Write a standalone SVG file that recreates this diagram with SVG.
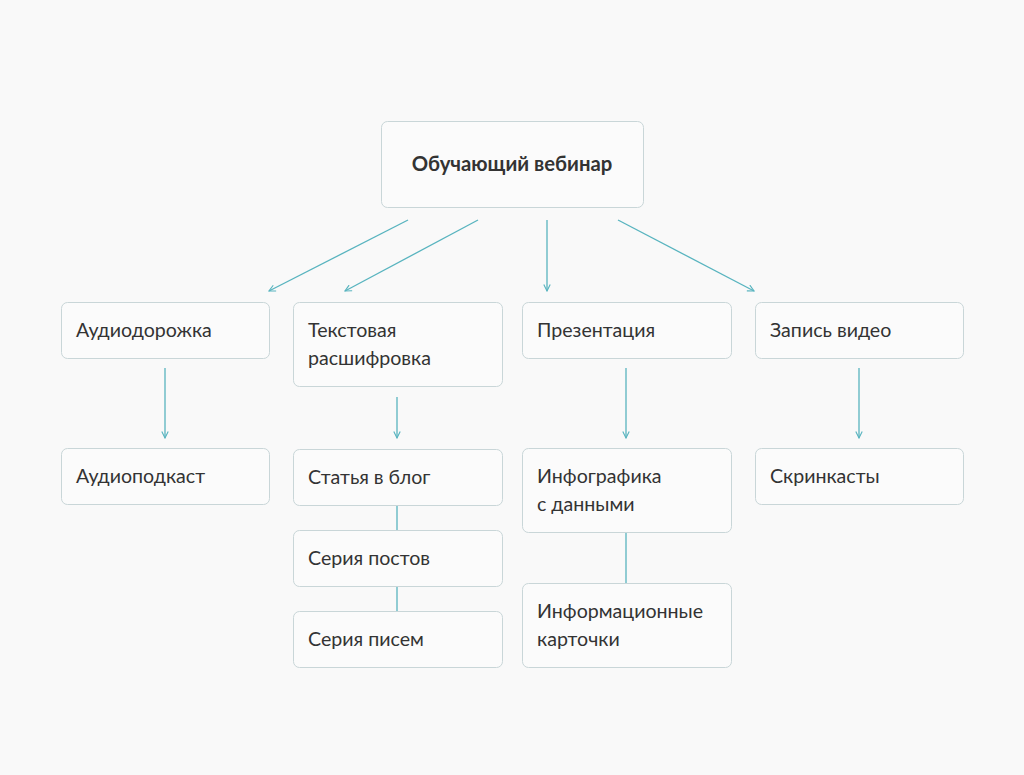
<svg xmlns="http://www.w3.org/2000/svg" width="1024" height="775" viewBox="0 0 1024 775">
<style>
.box{fill:#fbfbfb;stroke:#c9d6d8;stroke-width:1}
.t{font-family:Lato,"Noto Sans",sans-serif;font-size:19.6px;fill:#333333}
.b{font-weight:bold;text-anchor:middle;font-size:20.3px}
.ln{stroke:#58b4bf;stroke-width:1.3;fill:none}
</style>
<defs>
<marker id="ah" viewBox="0 0 10 10" refX="9" refY="5" markerWidth="8" markerHeight="8" markerUnits="userSpaceOnUse" orient="auto">
<path d="M1,1 L9,5 L1,9" fill="none" stroke="#58b4bf" stroke-width="1.4"/>
</marker>
</defs>
<rect width="1024" height="775" fill="#f9f9f9"/>
<g id="connectors">
<line class="ln" x1="408" y1="220" x2="269" y2="291" marker-end="url(#ah)"/>
<line class="ln" x1="478" y1="220" x2="345" y2="291" marker-end="url(#ah)"/>
<line class="ln" x1="547" y1="220" x2="547" y2="291" marker-end="url(#ah)"/>
<line class="ln" x1="618" y1="220" x2="754" y2="291" marker-end="url(#ah)"/>
<line class="ln" x1="165" y1="368" x2="165" y2="438" marker-end="url(#ah)"/>
<line class="ln" x1="397" y1="397" x2="397" y2="438" marker-end="url(#ah)"/>
<line class="ln" x1="626" y1="368" x2="626" y2="438" marker-end="url(#ah)"/>
<line class="ln" x1="859" y1="368" x2="859" y2="438" marker-end="url(#ah)"/>
<line class="ln" x1="397" y1="505" x2="397" y2="530"/>
<line class="ln" x1="397" y1="586" x2="397" y2="611"/>
<line class="ln" x1="626" y1="532" x2="626" y2="583"/>
</g>
<g id="root"><rect class="box" x="381.5" y="121.5" width="262" height="86" rx="6"/><text class="t b" x="512" y="171">Обучающий вебинар</text></g>
<g id="audio"><rect class="box" x="61.5" y="302.5" width="208" height="56" rx="6"/><text class="t" x="76" y="337">Аудиодорожка</text></g>
<g id="text"><rect class="box" x="293.5" y="302.5" width="209" height="84" rx="6"/><text class="t" x="308" y="337">Текстовая</text><text class="t" x="308" y="365">расшифровка</text></g>
<g id="pres"><rect class="box" x="522.5" y="302.5" width="209" height="56" rx="6"/><text class="t" x="537" y="337">Презентация</text></g>
<g id="video"><rect class="box" x="755.5" y="302.5" width="208" height="56" rx="6"/><text class="t" x="770" y="337">Запись видео</text></g>
<g id="podcast"><rect class="box" x="61.5" y="448.5" width="208" height="56" rx="6"/><text class="t" x="76" y="483">Аудиоподкаст</text></g>
<g id="blog"><rect class="box" x="293.5" y="449.5" width="209" height="56" rx="6"/><text class="t" x="308" y="484">Статья в блог</text></g>
<g id="posts"><rect class="box" x="293.5" y="530.5" width="209" height="56" rx="6"/><text class="t" x="308" y="565">Серия постов</text></g>
<g id="letters"><rect class="box" x="293.5" y="611.5" width="209" height="56" rx="6"/><text class="t" x="308" y="646">Серия писем</text></g>
<g id="infographic"><rect class="box" x="522.5" y="448.5" width="209" height="84" rx="6"/><text class="t" x="537" y="483">Инфографика</text><text class="t" x="537" y="511">с данными</text></g>
<g id="cards"><rect class="box" x="522.5" y="583.5" width="209" height="84" rx="6"/><text class="t" x="537" y="618">Информационные</text><text class="t" x="537" y="646">карточки</text></g>
<g id="screencasts"><rect class="box" x="755.5" y="448.5" width="208" height="56" rx="6"/><text class="t" x="770" y="483">Скринкасты</text></g>
</svg>
